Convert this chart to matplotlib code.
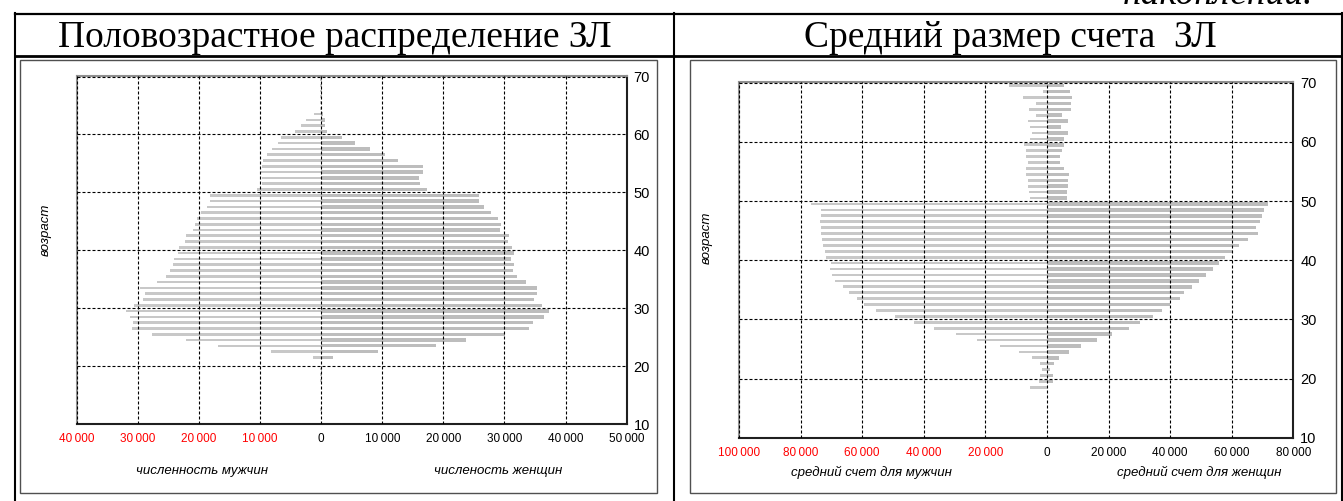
import matplotlib
matplotlib.use("Agg")
import matplotlib.pyplot as plt
import numpy as np
from matplotlib.ticker import FuncFormatter, MultipleLocator
from matplotlib.patches import Rectangle

# --- данные: половозрастное распределение ЗЛ (возраст 11..69)
ages_count = np.arange(11, 70)
men_count = [0, 150, 0, 0, 0, 0, 150, 150, 150, 0,
             1400, 8250, 16800, 22100, 27650, 31000, 30800, 31300, 32000, 30600,
             29100, 28850, 29600, 26900, 25400, 24700, 24300, 24150, 23450, 23300,
             22200, 22100, 21000, 20600, 20300, 19600, 18700, 18200, 18200, 10500,
             9700, 9700, 9850, 9600, 9450, 8900, 8100, 7100, 6500, 4200,
             3300, 2450, 1250, 250, 150, 150, 150, 150, 150]
women_count = [0, 150, 0, 0, 0, 0, 150, 150, 150, 0,
               2000, 9350, 18850, 23650, 30150, 34000, 34700, 36450, 37300, 36200,
               34750, 35250, 35250, 33450, 32100, 31400, 31600, 31050, 31600, 31200,
               30500, 30700, 29300, 29400, 28950, 27850, 26700, 25800, 25800, 17400,
               16250, 16050, 16700, 16700, 12500, 10450, 8000, 5550, 3450, 1000,
               700, 550, 270, 150, 150, 150, 150, 150, 150]

# --- данные: средний размер счета ЗЛ (возраст 18..70)
ages_acc = np.arange(18, 71)
men_acc = [5600, 2700, 2400, 1500, 2400, 4750, 9100, 15150, 22600, 29400,
           36550, 43250, 49400, 55350, 59350, 61750, 64200, 66250, 68850, 69950,
           70400, 70250, 71800, 72100, 72750, 73200, 73500, 73500, 73850, 73300,
           73500, 76750, 5620, 5940, 6270, 6270, 6700, 6700, 6270, 6700,
           6700, 7350, 5620, 4860, 5620, 6270, 3460, 5940, 3460, 7780,
           1300, 12430, 0]
women_acc = [0, 1850, 1850, 1100, 2200, 3950, 7200, 11130, 16200, 21200,
             26500, 30250, 34600, 37500, 40000, 43250, 44550, 47000, 49500, 51650,
             53850, 56000, 57800, 60300, 62450, 65300, 68450, 67850, 69150, 69900,
             70550, 71650, 6490, 6490, 6810, 6810, 7130, 5400, 4320, 4320,
             4970, 5400, 5400, 6810, 4650, 6810, 4970, 7890, 7890, 8220,
             7570, 5400, 2700]

W, H = 1343, 501
fig = plt.figure(figsize=(W / 100, H / 100), dpi=100)

# фон: таблица
bg = fig.add_axes([0, 0, 1, 1])
bg.set_xlim(0, W)
bg.set_ylim(H, 0)
bg.axis("off")
bg.plot([15, 1343], [13.5, 13.5], color="black", lw=1.6)
bg.plot([15, 1343], [55.5, 55.5], color="black", lw=2.0)
bg.plot([15, 15], [13, 501], color="black", lw=1.5)
bg.plot([674, 674], [13, 501], color="black", lw=1.5)
bg.plot([1342, 1342], [13, 501], color="black", lw=1.5)
bg.add_patch(Rectangle((19.5, 59.5), 637, 433, fill=False, ec="#505050", lw=1))
bg.add_patch(Rectangle((690, 59.5), 646, 433, fill=False, ec="#505050", lw=1))
bg.text(335, 46.7, "Половозрастное распределение ЗЛ", family="Liberation Serif",
        fontsize=27, ha="center", va="baseline")
bg.text(1010, 46.7, "Средний размер счета  ЗЛ", family="Liberation Serif",
        fontsize=27, ha="center", va="baseline")
bg.text(1313, 4, "накоплений.", family="Liberation Serif", style="italic",
        fontsize=27, ha="right", va="baseline")


def thousands(v, pos):
    v = int(round(abs(v)))
    return f"{v:,}".replace(",", "\u2009")


def pyramid(rect, ages, men, women, xmin, xmax, step, ytop):
    ax = fig.add_axes(rect)
    ax.barh(ages + 0.5, -np.array(men), height=0.45, color="#c8c8c8", zorder=1)
    ax.barh(ages + 0.5, women, height=0.58, color="#bdbdbd", zorder=1)
    ax.set_xlim(xmin, xmax)
    ax.set_ylim(10, ytop)
    ax.xaxis.set_major_locator(MultipleLocator(step))
    ax.yaxis.set_major_locator(MultipleLocator(10))
    ax.xaxis.set_major_formatter(FuncFormatter(thousands))
    ax.yaxis.tick_right()
    ax.set_axisbelow(False)
    ax.grid(True, color="black", lw=0.8, ls=(0, (2.7, 1.8)))
    ax.tick_params(axis="x", length=0, pad=6.5, labelsize=8.5)
    ax.tick_params(axis="y", length=0, pad=5, labelsize=10.5)
    for lbl in ax.get_xticklabels() + ax.get_yticklabels():
        lbl.set_family("Liberation Sans")
    fig.canvas.draw()
    for lbl, v in zip(ax.get_xticklabels(), ax.get_xticks()):
        if v < 0:
            lbl.set_color("red")
    for s in ["left", "top"]:
        ax.spines[s].set_color("#909090")
        ax.spines[s].set_linewidth(1.5)
    for s in ["right", "bottom"]:
        ax.spines[s].set_color("#202020")
        ax.spines[s].set_linewidth(1.5)
    return ax


pyramid([76.7 / W, 1 - 424 / H, 550 / W, 348 / H],
        ages_count, men_count, women_count, -40000, 50000, 10000, 70.09)
pyramid([739 / W, 1 - 437.7 / H, 554.3 / W, 355.4 / H],
        ages_acc, men_acc, women_acc, -100000, 80000, 20000, 70.06)

lab = dict(family="Liberation Sans", style="italic", fontsize=9.5,
           ha="center", va="center")
fig.text(201.7 / W, 1 - 470.7 / H, "численность мужчин", **lab)
fig.text(498 / W, 1 - 470.7 / H, "численость женщин", **lab)
fig.text(871.7 / W, 1 - 472 / H, "средний счет для мужчин", **lab)
fig.text(1199 / W, 1 - 472 / H, "средний счет для женщин", **lab)
fig.text(46 / W, 1 - 230 / H, "возраст", rotation=90, **lab)
fig.text(707 / W, 1 - 238 / H, "возраст", rotation=90, **lab)

fig.savefig("out.png", dpi=100)
